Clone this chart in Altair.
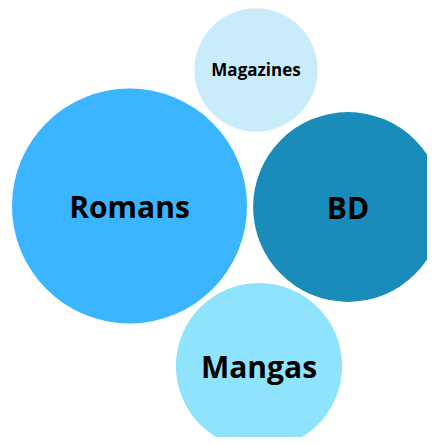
import altair as alt
import pandas as pd

categories = ["Romans", "BD", "Mangas", "Magazines"]
values = [138, 90, 69, 38]
pos_x = [121.5, 340, 251, 248]
pos_y = [198, 199, 358, 62]
colors = ["#3bb5ff", "#1a8cba", "#90e3fd", "#c8ecfa"]
label_sizes = [30, 30, 30, 17]

df = pd.DataFrame({"category": categories, "value": values, "px": pos_x, "py": pos_y})

W, H = 419, 429
xs = alt.X("px:Q", scale=alt.Scale(domain=[0, W], nice=False, zero=False), axis=None)
ys = alt.Y("py:Q", scale=alt.Scale(domain=[0, H], nice=False, zero=False, reverse=True), axis=None)

base = alt.Chart(df)

circles = base.mark_circle(opacity=1, clip=True).encode(
    x=xs,
    y=ys,
    size=alt.Size("value:Q", scale=alt.Scale(domain=[0, 138], range=[0, 55225]), legend=None),
    color=alt.Color("category:N", scale=alt.Scale(domain=categories, range=colors), legend=None),
)

size_enc = alt.Size("category:N", scale=alt.Scale(type="ordinal", domain=categories, range=label_sizes), legend=None)

labels_big = base.transform_filter(alt.datum.category != "Magazines").mark_text(
    font="Open Sans", fontWeight="bold", color="#000000", baseline="middle", align="center", dy=3
).encode(x=xs, y=ys, text="category:N", size=size_enc)

labels_small = base.transform_filter(alt.datum.category == "Magazines").mark_text(
    font="Open Sans", fontWeight="bold", color="#000000", baseline="middle", align="center", dy=1
).encode(x=xs, y=ys, text="category:N", size=size_enc)

chart = (circles + labels_big + labels_small).properties(
    width=W, height=H, padding=0, autosize=alt.AutoSizeParams(type="none")
).configure_view(stroke=None)

chart.save("out.html", embed_options={"renderer": "svg", "actions": False})
